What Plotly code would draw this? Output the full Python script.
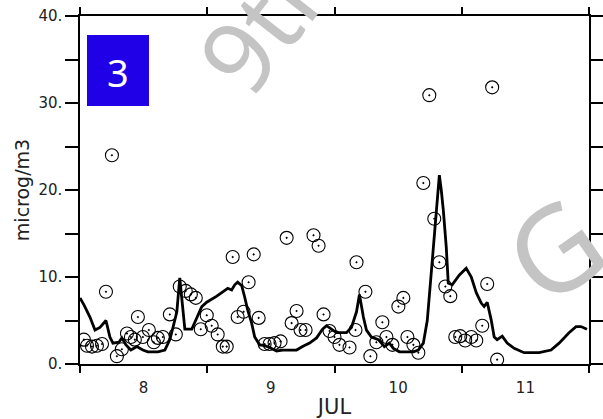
import plotly.graph_objects as go

# Observations (day of July, microg/m3)
obs_day = [7.531, 7.555, 7.594, 7.633, 7.673, 7.704, 7.751, 7.790, 7.829, 7.869,
           7.900, 7.931, 7.955, 7.994, 8.041, 8.080, 8.112, 8.151, 8.206, 8.253,
           8.284, 8.331, 8.371, 8.410, 8.449, 8.496, 8.535, 8.582, 8.622, 8.653,
           8.700, 8.739, 8.786, 8.825, 8.865, 8.904, 8.951, 8.990, 9.029, 9.076,
           9.124, 9.163, 9.202, 9.233, 9.273, 9.335, 9.375, 9.414, 9.461, 9.500,
           9.539, 9.618, 9.665, 9.673, 9.743, 9.782, 9.829, 9.876, 9.908, 9.955,
           10.002, 10.041, 10.073, 10.120, 10.159, 10.198, 10.245, 10.284, 10.324, 10.371,
           10.410, 10.449, 10.488, 10.527, 10.575, 10.614, 10.661, 10.700, 10.739, 10.778]
obs_val = [2.8, 2.1, 2.0, 2.1, 2.3, 8.3, 24.0, 0.9, 1.7, 3.5,
           3.1, 2.8, 5.4, 3.1, 3.9, 2.5, 3.0, 3.1, 5.7, 3.4,
           8.9, 8.4, 8.0, 7.6, 4.0, 5.6, 4.4, 3.4, 2.0, 2.0,
           12.3, 5.4, 6.0, 9.4, 12.6, 5.3, 2.3, 2.3, 2.4, 2.6,
           14.5, 4.7, 6.1, 3.9, 3.9, 14.8, 13.6, 5.7, 3.8, 3.1,
           2.2, 1.9, 3.9, 11.7, 8.3, 0.9, 2.5, 4.8, 3.1, 2.2,
           6.6, 7.6, 3.1, 2.2, 1.3, 20.8, 30.9, 16.7, 11.7, 8.9,
           7.8, 3.1, 3.2, 2.7, 3.1, 2.7, 4.4, 9.2, 31.8, 0.5]

# Model (line)
mod_day = [7.500, 7.531, 7.578, 7.618, 7.657, 7.704, 7.735, 7.759, 7.806, 7.829,
           7.861, 7.900, 7.947, 7.994, 8.033, 8.112, 8.167, 8.206, 8.229, 8.261,
           8.284, 8.324, 8.378, 8.418, 8.457, 8.496, 8.535, 8.575, 8.622, 8.661,
           8.692, 8.716, 8.739, 8.771, 8.794, 8.818, 8.849, 8.873, 8.912, 8.951,
           8.990, 9.045, 9.092, 9.202, 9.249, 9.304, 9.359, 9.406, 9.437, 9.476,
           9.516, 9.594, 9.633, 9.673, 9.696, 9.727, 9.751, 9.790, 9.845, 9.892,
           9.931, 9.963, 10.010, 10.120, 10.159, 10.198, 10.229, 10.269, 10.300, 10.324,
           10.339, 10.355, 10.378, 10.394, 10.425, 10.480, 10.535, 10.575, 10.614, 10.653,
           10.676, 10.700, 10.731, 10.755, 10.778, 10.818, 10.857, 10.912, 10.990, 11.108,
           11.202, 11.265, 11.343, 11.398, 11.437, 11.484]
mod_val = [7.6, 6.8, 5.4, 3.9, 4.2, 5.0, 3.1, 2.4, 2.5, 3.0,
           2.2, 1.6, 2.0, 1.6, 1.4, 1.4, 1.6, 2.8, 4.1, 6.0,
           9.9, 4.0, 4.0, 5.3, 6.6, 7.1, 7.4, 7.8, 8.3, 8.7,
           8.5, 9.1, 9.4, 9.0, 7.7, 6.2, 4.7, 3.1, 2.2, 2.1,
           1.9, 1.5, 1.6, 1.6, 2.0, 2.4, 3.0, 4.0, 4.4, 4.0,
           3.6, 3.6, 4.2, 6.0, 8.0, 5.4, 3.9, 3.1, 2.8, 2.0,
           2.4, 1.8, 1.4, 1.4, 1.6, 2.4, 5.0, 12.0, 17.7, 21.7,
           20.0, 17.7, 13.5, 9.3, 9.1, 10.2, 11.0, 10.0, 8.2, 7.0,
           6.6, 7.1, 5.1, 3.1, 2.8, 3.2, 2.4, 1.8, 1.3, 1.3,
           1.6, 2.4, 3.6, 4.3, 4.3, 4.0]

x_tick_vals = [8, 9, 10, 11]
x_tick_text = ["8", "9", "10", "11"]
x_minor_vals = [7.5, 8.5, 9.5, 10.5, 11.5]
y_tick_vals = [0, 10, 20, 30, 40]
y_tick_text = ["0.", "10.", "20.", "30.", "40."]
y_minor_vals = [5, 15, 25, 35]

fig = go.Figure()
fig.add_trace(go.Scatter(
    x=obs_day, y=obs_val, mode="markers",
    marker=dict(symbol="circle-open-dot", size=13, color="black",
                line=dict(width=1.1, color="black")),
    showlegend=False))
fig.add_trace(go.Scatter(
    x=mod_day, y=mod_val, mode="lines",
    line=dict(color="black", width=2.8), showlegend=False))

axis_font = dict(family="DejaVu Sans ExtraLight, DejaVu Sans, sans-serif", color="#222")

fig.update_layout(
    width=603, height=419,
    margin=dict(l=80, r=14, t=16, b=55, autoexpand=False),
    paper_bgcolor="white", plot_bgcolor="white",
    xaxis=dict(
        range=[7.5, 11.5], showgrid=False, zeroline=False, automargin=False,
        showline=True, linecolor="black", linewidth=1.5, mirror="ticks",
        tickmode="array", tickvals=x_tick_vals, ticktext=x_tick_text,
        ticks="outside", ticklen=9, tickcolor="rgba(0,0,0,0)",
        tickfont=dict(size=15, **axis_font),
        minor=dict(tickmode="array", tickvals=x_minor_vals, ticks="outside",
                   ticklen=7, tickwidth=1.5, tickcolor="black", showgrid=False),
        title=dict(text="JUL", font=dict(size=21, **axis_font), standoff=6),
    ),
    yaxis=dict(
        range=[0, 40], showgrid=False, zeroline=False, automargin=False,
        showline=True, linecolor="black", linewidth=1.5, mirror="ticks",
        tickmode="array", tickvals=y_tick_vals, ticktext=y_tick_text,
        ticks="outside", ticklen=13, tickwidth=1.5, tickcolor="black",
        tickfont=dict(size=15, **axis_font),
        minor=dict(tickmode="array", tickvals=y_minor_vals, ticks="outside",
                   ticklen=13, tickwidth=1.5, tickcolor="black", showgrid=False),
        title=dict(text="microg/m3", font=dict(size=19, **axis_font), standoff=4),
    ),
)

# Panel number box
fig.add_shape(type="rect", xref="paper", yref="paper",
              x0=(87 - 80) / 509, x1=(149 - 80) / 509,
              y0=(364 - 106) / 348, y1=(364 - 35) / 348,
              fillcolor="#2000E6", line=dict(width=0), layer="above")
fig.add_annotation(xref="paper", yref="paper",
                   x=(118 - 80) / 509, y=(364 - 72) / 348,
                   xanchor="center", yanchor="middle",
                   text="3", showarrow=False,
                   font=dict(family="Noto Sans, sans-serif", size=38, color="white"))

# Watermark fragments
wm_color = "#c4c4c4"
fig.add_annotation(xref="paper", yref="paper", x=(285 - 80) / 509, y=(364 + 7) / 348,
                   xanchor="center", yanchor="middle", text="9th I",
                   showarrow=False, textangle=-52,
                   font=dict(family="Noto Sans, sans-serif", size=100, color=wm_color))
fig.add_annotation(xref="paper", yref="paper", x=(553 - 80) / 509, y=(364 - 248) / 348,
                   xanchor="center", yanchor="middle", text="G",
                   showarrow=False, textangle=-35,
                   font=dict(family="Noto Sans, sans-serif", size=118, color=wm_color))

fig.write_html("out.html", config={"displayModeBar": False},
               post_script="document.body.style.margin='0px';")
